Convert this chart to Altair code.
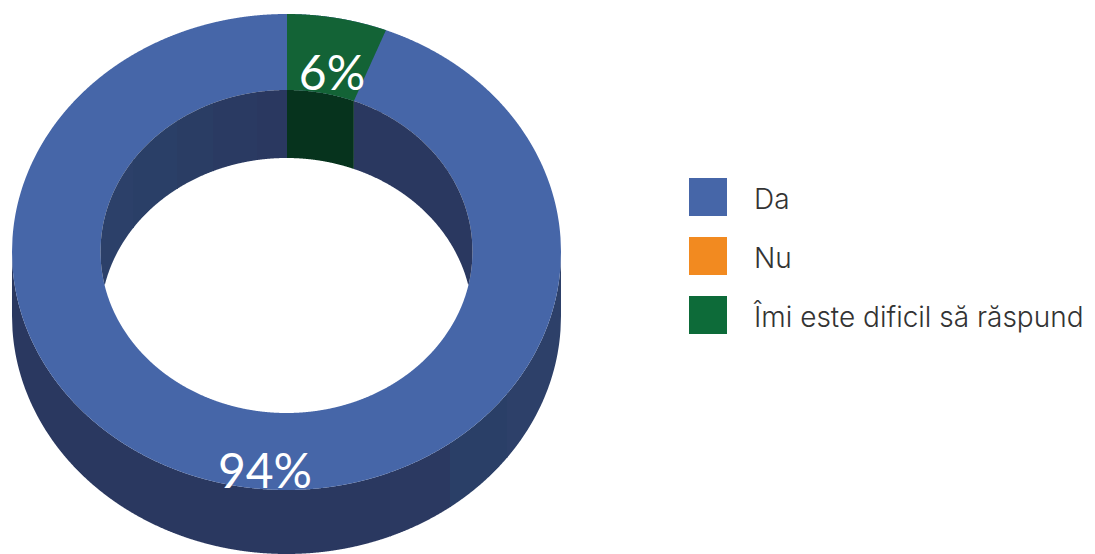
import numpy as np
import pandas as pd
import altair as alt

categories = ["Da", "Nu", "Îmi este dificil să răspund"]
values = [94.1, 0, 5.9]
value_labels = ["94%", "6%"]
colors = ["#4666A8", "#F28A20", "#0D6B39"]

# ring geometry (page pixels)
CX, CY = 286.5, 252.0
RX, RY = 274.5, 238.0
IX, IY = 186.0, 161.5
ICY = 251.5
DEPTH_OUT, DEPTH_IN = 64.0, 68.0
WALL = "#2A3860"
TOP_GREEN = "#136336"
WALL_GREEN = "#06331D"

angle = 2 * np.pi * values[2] / sum(values)

X_SCALE = alt.Scale(domain=[8, 1087], nice=False, zero=False)
Y_SCALE = alt.Scale(domain=[554, 8], nice=False, zero=False)


def half(x, cx, rx, ry):
    return ry * np.sqrt(np.clip(1 - ((x - cx) / rx) ** 2, 0, 1))


def grid(x0, x1):
    n = max(int((x1 - x0) * 2), 2) + 1
    return np.linspace(x0, x1, n)


def area(df, fill=None, legend=False):
    enc = dict(
        x=alt.X("x:Q", scale=X_SCALE, axis=None),
        y=alt.Y("y:Q", scale=Y_SCALE, axis=None, stack=None),
        y2="y2:Q",
    )
    if legend:
        enc["color"] = alt.Color(
            "series:N",
            scale=alt.Scale(domain=categories, range=colors),
            legend=alt.Legend(
                orient="none", legendX=681, legendY=170, title=None,
                symbolType="square", symbolSize=1444, symbolStrokeWidth=0,
                symbolOpacity=1, labelFont="Inter", labelFontSize=28, labelFontWeight=300,
                labelColor="#333333", labelOffset=27, labelLimit=400,
                labelBaseline="line-top",
                rowPadding=21, padding=0, values=categories,
            ),
        )
    else:
        enc["color"] = alt.value(fill)
    return alt.Chart(df).mark_area(interpolate="linear", strokeWidth=0).encode(**enc)


layers = []

# outer wall, shaded in vertical bands (each runs slightly under the next)
outer_bands = [(CX - RX, 390, WALL), (390, 450, "#2B3961"), (450, 507, "#2A3F67"), (507, CX + RX, "#2D4069")]
for x0, x1, col in outer_bands:
    x = grid(x0, min(x1 + 1, CX + RX))
    y = CY + half(x, CX, RX, RY)
    layers.append(area(pd.DataFrame({"x": x, "y": y, "y2": y + DEPTH_OUT}), col))

# top surface
x = grid(CX - RX, CX + RX)
h = half(x, CX, RX, RY)
layers.append(area(pd.DataFrame({"x": x, "y": CY - h, "y2": CY + h, "series": categories[0]}), legend=True))

# hole
x = grid(CX - IX, CX + IX)
h = half(x, CX, IX, IY)
layers.append(area(pd.DataFrame({"x": x, "y": ICY - h, "y2": ICY + h}), "#FFFFFF"))

# inner wall
wedge_in_x = CX + IX * np.sin(angle)
inner_bands = [
    (CX - IX, 133, "#2C4069"), (133, 177, "#2A3F67"), (177, 213, "#2A3D64"),
    (213, 257, "#2A3A62"), (257, 287, WALL), (287, wedge_in_x, WALL_GREEN),
]
for x0, x1, col in inner_bands:
    x = grid(x0, x1 + 1 if x1 < 287 else x1)
    h = half(x, CX, IX, IY)
    layers.append(area(pd.DataFrame({"x": x, "y": ICY - h, "y2": np.minimum(ICY - h + DEPTH_IN, ICY + h)}), col))
x = grid(wedge_in_x, CX + IX)
h = half(x, CX, IX, IY)
layers.append(area(pd.DataFrame({"x": x, "y": ICY - h, "y2": np.minimum(ICY - h + DEPTH_IN, ICY + h)}), WALL))

# small slice on the top surface
x_out = CX + RX * np.sin(angle)
y_out = CY - RY * np.cos(angle)
y_in = ICY - IY * np.cos(angle)
x = grid(287, x_out)
top = CY - half(x, CX, RX, RY)
bottom = np.where(
    x <= wedge_in_x,
    ICY - half(x, CX, IX, IY),
    y_in + (y_out - y_in) * (x - wedge_in_x) / (x_out - wedge_in_x),
)
layers.append(area(pd.DataFrame({"x": x, "y": top, "y2": bottom}), TOP_GREEN))

# value labels
labels = pd.DataFrame({"t": value_labels, "x": [265, 332], "y": [474, 76]})
layers.append(
    alt.Chart(labels).mark_text(font="Lato", fontSize=48, color="white", align="center", baseline="middle").encode(
        x=alt.X("x:Q", scale=X_SCALE, axis=None),
        y=alt.Y("y:Q", scale=Y_SCALE, axis=None),
        text="t:N",
    )
)

chart = (
    alt.layer(*layers)
    .properties(width=1079, height=546, padding=0, autosize=alt.AutoSizeParams(type="none"), background="white")
    .configure(style={"guide-label": {"lineHeight": 8}})
    .configure_view(stroke=None)
)
chart.save("out.html", embed_options={"renderer": "svg", "actions": False})
